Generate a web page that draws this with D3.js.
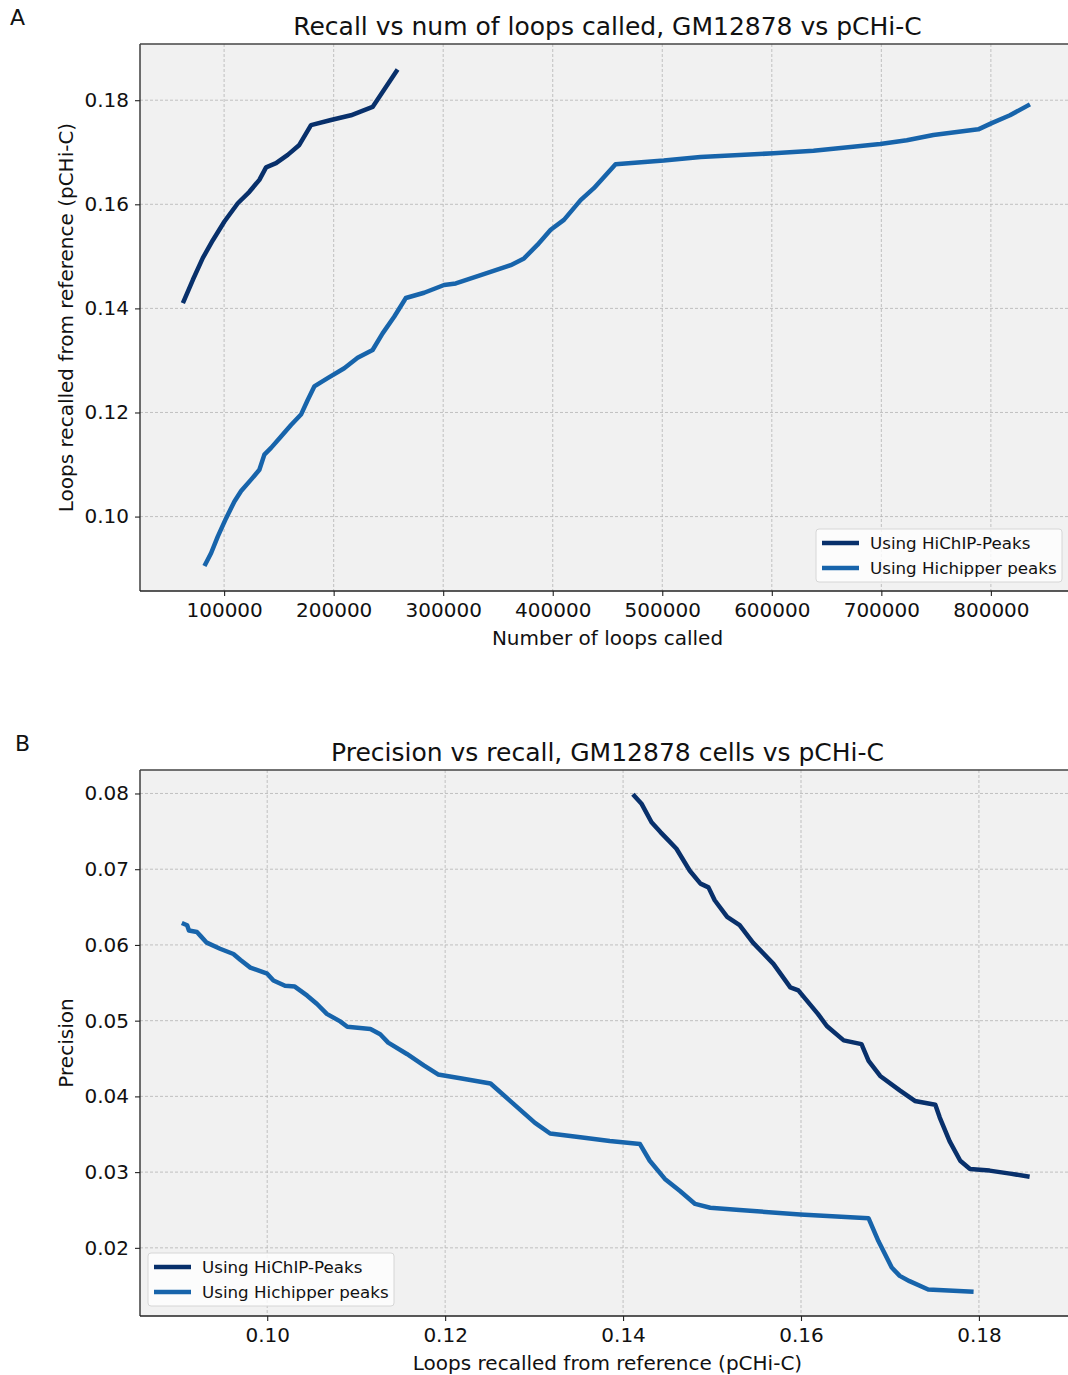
<!DOCTYPE html>
<html>
<head>
<meta charset="utf-8">
<title>Recall and precision</title>
<script src="https://cdn.jsdelivr.net/npm/d3@7"></script>
<style>
	body { margin: 0; background: #fff; }
	svg { display: block; font-family: "DejaVu Sans", sans-serif; }
</style>
</head>
<body>
<div id="root"></div>
<script>
// panel A: loops called vs recall
const loopsDark = [62350, 71470, 80580, 89700, 100270, 112490, 123060, 132180, 138290, 147400, 158070, 168640, 179310, 197540, 215770, 235550, 258350];
const recallDark = [0.1410, 0.1455, 0.1497, 0.1531, 0.1567, 0.1602, 0.1624, 0.1647, 0.1671, 0.1679, 0.1695, 0.1714, 0.1752, 0.1762, 0.1771, 0.1787, 0.1859];

const loopsLight = [82040, 88150, 94260, 101820, 109390, 115500, 124610, 132180, 136740, 142850, 151960, 161080, 170190, 176300, 182320, 194530, 209660, 221880, 235550, 244670, 255240, 265910, 282590, 300820, 311490, 334280, 361630, 373750, 385970, 398120, 410220, 425440, 437560, 457350, 501380, 534870, 601650, 638100, 698930, 723270, 747510, 788530, 800740, 817440, 835670];
const recallLight = [0.0905, 0.0930, 0.0962, 0.0997, 0.1029, 0.1049, 0.1071, 0.1090, 0.1119, 0.1132, 0.1154, 0.1176, 0.1196, 0.1224, 0.1250, 0.1266, 0.1285, 0.1305, 0.1320, 0.1352, 0.1384, 0.1420, 0.1430, 0.1445, 0.1448, 0.1464, 0.1483, 0.1496, 0.1522, 0.1551, 0.1570, 0.1608, 0.1631, 0.1677, 0.1684, 0.1691, 0.1698, 0.1703, 0.1716, 0.1723, 0.1733, 0.1744, 0.1756, 0.1771, 0.1792];

// panel B: recall vs precision
const prRecallDark = [0.1411, 0.1421, 0.1432, 0.1442, 0.1451, 0.1460, 0.1475, 0.1487, 0.1496, 0.1503, 0.1517, 0.1531, 0.1546, 0.1569, 0.1588, 0.1597, 0.1619, 0.1629, 0.1648, 0.1668, 0.1676, 0.1689, 0.1711, 0.1728, 0.1751, 0.1756, 0.1767, 0.1779, 0.1790, 0.1812, 0.1835, 0.1857];
const precisionDark = [0.0799, 0.0786, 0.0762, 0.0749, 0.0738, 0.0727, 0.0698, 0.0681, 0.0676, 0.0659, 0.0637, 0.0626, 0.0603, 0.0575, 0.0544, 0.0540, 0.0509, 0.0493, 0.0474, 0.0469, 0.0447, 0.0427, 0.0408, 0.0394, 0.0389, 0.0372, 0.0341, 0.0315, 0.0304, 0.0302, 0.0298, 0.0294];

const prRecallLight = [0.0904, 0.0910, 0.0912, 0.0921, 0.0925, 0.0932, 0.0947, 0.0962, 0.0970, 0.0981, 0.1000, 0.1007, 0.1020, 0.1031, 0.1045, 0.1056, 0.1067, 0.1082, 0.1090, 0.1116, 0.1127, 0.1136, 0.1157, 0.1176, 0.1192, 0.1217, 0.1251, 0.1273, 0.1301, 0.1318, 0.1352, 0.1385, 0.1419, 0.1430, 0.1447, 0.1464, 0.1481, 0.1498, 0.1531, 0.1599, 0.1676, 0.1687, 0.1702, 0.1711, 0.1722, 0.1743, 0.1794];
const precisionLight = [0.0629, 0.0626, 0.0619, 0.0617, 0.0612, 0.0603, 0.0595, 0.0588, 0.0580, 0.0570, 0.0562, 0.0553, 0.0546, 0.0545, 0.0533, 0.0522, 0.0509, 0.0499, 0.0492, 0.0489, 0.0482, 0.0471, 0.0456, 0.0441, 0.0429, 0.0424, 0.0417, 0.0394, 0.0365, 0.0351, 0.0346, 0.0341, 0.0337, 0.0315, 0.0291, 0.0275, 0.0258, 0.0253, 0.0250, 0.0244, 0.0239, 0.0209, 0.0174, 0.0163, 0.0156, 0.0145, 0.0142];

const seriesNames = ["Using HiChIP-Peaks", "Using Hichipper peaks"];
const seriesColors = ["#08306b", "#1764ab"];

const loopTicks = [100000, 200000, 300000, 400000, 500000, 600000, 700000, 800000];
const recallTicks = [0.10, 0.12, 0.14, 0.16, 0.18];
const precisionTicks = [0.02, 0.03, 0.04, 0.05, 0.06, 0.07, 0.08];

const width = 1068, height = 1375;

const svg = d3.select("#root").append("svg")
	.attr("width", width)
	.attr("height", height);

function drawPanel(opt) {
	const left = 140, right = 1075;
	const x = d3.scaleLinear().domain(opt.xDomain).range([left, right]);
	const y = d3.scaleLinear().domain(opt.yDomain).range([opt.bottom, opt.top]);
	const g = svg.append("g");

	//plot background
	g.append("rect")
		.attr("x", left).attr("y", opt.top)
		.attr("width", right - left).attr("height", opt.bottom - opt.top)
		.attr("fill", "#f1f1f1");

	//dashed grid
	g.append("g").selectAll("line").data(opt.xTicks).join("line")
		.attr("x1", d => x(d)).attr("x2", d => x(d))
		.attr("y1", opt.top).attr("y2", opt.bottom)
		.attr("stroke", "#b4b4b4").attr("stroke-width", 0.8)
		.attr("stroke-dasharray", "3,2");
	g.append("g").selectAll("line").data(opt.yTicks).join("line")
		.attr("x1", left).attr("x2", right)
		.attr("y1", d => y(d)).attr("y2", d => y(d))
		.attr("stroke", "#b4b4b4").attr("stroke-width", 0.8)
		.attr("stroke-dasharray", "3,2");

	//lines
	const line = d3.line().x(d => x(d[0])).y(d => y(d[1]));
	opt.series.forEach((s, i) => {
		g.append("path")
			.datum(d3.zip(s[0], s[1]))
			.attr("d", line)
			.attr("fill", "none")
			.attr("stroke", seriesColors[i])
			.attr("stroke-width", 4.5)
			.attr("stroke-linejoin", "round");
	});

	//spines
	g.append("line").attr("x1", left).attr("x2", left).attr("y1", opt.top).attr("y2", opt.bottom)
		.attr("stroke", "#222").attr("stroke-width", 1.3);
	g.append("line").attr("x1", left).attr("x2", right).attr("y1", opt.bottom).attr("y2", opt.bottom)
		.attr("stroke", "#222").attr("stroke-width", 1.3);
	g.append("line").attr("x1", left).attr("x2", right).attr("y1", opt.top).attr("y2", opt.top)
		.attr("stroke", "#444").attr("stroke-width", 1.3);

	//axes
	const xAxis = g.append("g")
		.attr("transform", "translate(0," + opt.bottom + ")")
		.call(d3.axisBottom(x).tickValues(opt.xTicks).tickFormat(opt.xFormat).tickSize(5).tickPadding(7));
	const yAxis = g.append("g")
		.attr("transform", "translate(" + left + ",0)")
		.call(d3.axisLeft(y).tickValues(opt.yTicks).tickFormat(d3.format(".2f")).tickSize(5).tickPadding(6));
	[xAxis, yAxis].forEach(a => {
		a.select(".domain").remove();
		a.selectAll("line").attr("stroke", "#222").attr("stroke-width", 1.1);
		a.selectAll("text").attr("font-size", 20).attr("fill", "#111")
			.attr("font-family", "DejaVu Sans, sans-serif");
	});

	//title and labels
	g.append("text").attr("x", (left + right) / 2).attr("y", opt.top - 9)
		.attr("text-anchor", "middle").attr("font-size", 25).attr("fill", "#111")
		.text(opt.title);
	g.append("text").attr("x", (left + right) / 2).attr("y", opt.bottom + 54)
		.attr("text-anchor", "middle").attr("font-size", 20).attr("fill", "#111")
		.text(opt.xLabel);
	g.append("text")
		.attr("transform", "translate(73," + ((opt.top + opt.bottom) / 2) + ") rotate(-90)")
		.attr("text-anchor", "middle").attr("font-size", 20).attr("fill", "#111")
		.text(opt.yLabel);
	g.append("text").attr("x", opt.letterX).attr("y", opt.top - 19)
		.attr("font-size", 22).attr("fill", "#111")
		.text(opt.letter);

	//legend
	const lg = g.append("g").attr("transform", "translate(" + opt.legendX + "," + opt.legendY + ")");
	lg.append("rect").attr("width", 246).attr("height", 53).attr("rx", 3)
		.attr("fill", "#fff").attr("fill-opacity", 0.8)
		.attr("stroke", "#d6d6d6").attr("stroke-width", 1);
	seriesNames.forEach((name, i) => {
		lg.append("line").attr("x1", 6).attr("x2", 43)
			.attr("y1", 14 + i * 25).attr("y2", 14 + i * 25)
			.attr("stroke", seriesColors[i]).attr("stroke-width", 4.5);
		lg.append("text").attr("x", 54).attr("y", 20 + i * 25)
			.attr("font-size", 16.7).attr("fill", "#111")
			.text(name);
	});
}

drawPanel({
	top: 44, bottom: 591,
	xDomain: [23200, 876800], yDomain: [0.0857, 0.1908],
	xTicks: loopTicks, yTicks: recallTicks,
	xFormat: d3.format("d"),
	series: [[loopsDark, recallDark], [loopsLight, recallLight]],
	title: "Recall vs num of loops called, GM12878 vs pCHi-C",
	xLabel: "Number of loops called",
	yLabel: "Loops recalled from reference (pCHi-C)",
	letter: "A", letterX: 10,
	legendX: 816, legendY: 529
});

drawPanel({
	top: 770, bottom: 1316,
	xDomain: [0.0857, 0.1908], yDomain: [0.0110, 0.0831],
	xTicks: recallTicks, yTicks: precisionTicks,
	xFormat: d3.format(".2f"),
	series: [[prRecallDark, precisionDark], [prRecallLight, precisionLight]],
	title: "Precision vs recall, GM12878 cells vs pCHi-C",
	xLabel: "Loops recalled from reference (pCHi-C)",
	yLabel: "Precision",
	letter: "B", letterX: 15,
	legendX: 148, legendY: 1253
});
</script>
</body>
</html>
